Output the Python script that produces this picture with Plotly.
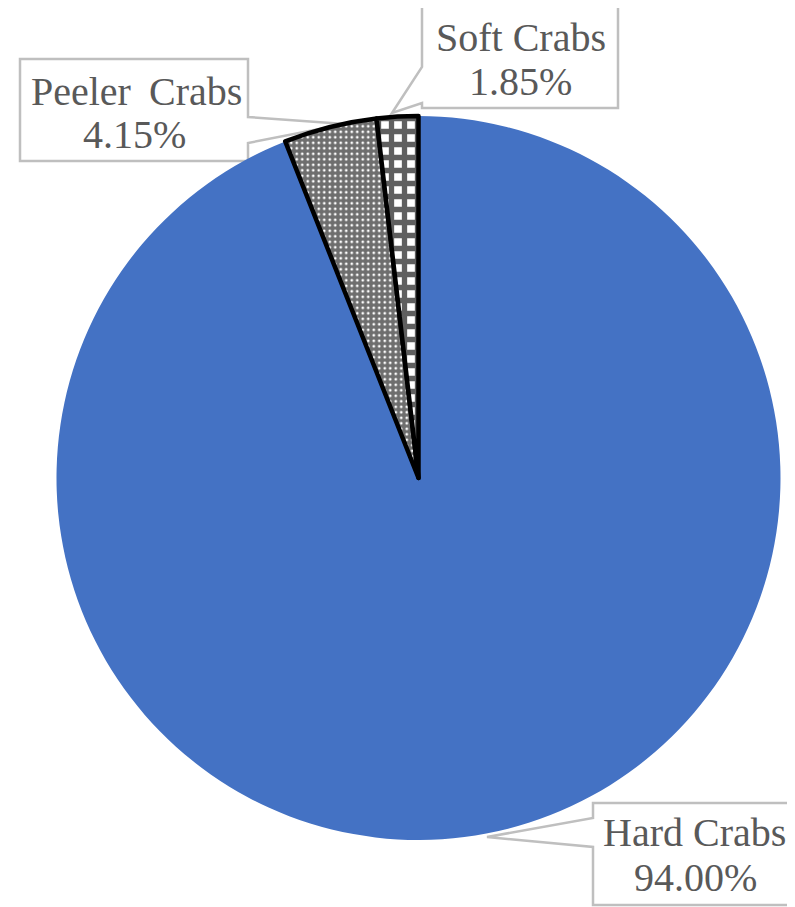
import plotly.graph_objects as go

# The page body has an 8px margin, so the figure is drawn from (8, 8).
OFF = 8
W, H = 795 - OFF, 907 - OFF

categories = ["Hard Crabs", "Peeler Crabs", "Soft Crabs"]
values = [94.00, 4.15, 1.85]
name_text = ["Hard Crabs", "Peeler\u2009 Crabs", "Soft Crabs"]
pct_text = ["94.00%", "4.15%", "1.85%"]

# Pie placement (screen pixels)
cx, cy, r = 418.5, 478, 362

def px(x):
    return (x - OFF) / W

def py(y):
    return 1 - (y - OFF) / H

fig = go.Figure()
fig.add_trace(go.Pie(
    labels=categories,
    values=values,
    sort=False,
    direction="clockwise",
    rotation=0,
    textinfo="none",
    hoverinfo="label+percent",
    showlegend=False,
    domain=dict(x=[px(cx - r), px(cx + r)], y=[py(cy + r), py(cy - r)]),
    marker=dict(
        colors=["#4472C4", "#6e6e6e", "white"],
        line=dict(color="black", width=[0, 4.5, 4.5]),
        pattern=dict(
            shape=["", ".", "+"],
            fgcolor=["#4472C4", "white", "#5f5f5f"],
            bgcolor=["#4472C4", "#6e6e6e", "white"],
            size=[8, 5.5, 13],
            solidity=[0.3, 0.2, 0.65],
            fillmode="replace",
        ),
    ),
))

# callout boxes (left, top, right, bottom), pointer base, tip, text line centres
callouts = [
    dict(box=(20, 59, 248, 161), side="right", base=(117, 143), tip=(345, 124),
         lines=((136, 91.5), (134, 135)), idx=1),
    dict(box=(422, 5, 618, 108), side="left", base=(67, 103), tip=(392, 113),
         lines=((521, 37.5), (520.5, 81.5)), idx=2),
    dict(box=(593, 803, 792, 905), side="left", base=(818, 847), tip=(487, 837),
         lines=((694, 832.5), (695, 877.5)), idx=0),
]

shapes = []
annotations = []
font = dict(family="'Liberation Serif', 'Times New Roman', serif", size=40, color="#595959")
for c in callouts:
    l, t, rr, b = c["box"]
    y1, y2 = c["base"]
    tx, ty = c["tip"]
    if c["side"] == "right":
        pts = [(l, t), (rr, t), (rr, y1), (tx, ty), (rr, y2), (rr, b), (l, b)]
    else:
        pts = [(l, t), (rr, t), (rr, b), (l, b), (l, y2), (tx, ty), (l, y1)]
    path = "M " + " L ".join(f"{px(x):.5f},{py(y):.5f}" for x, y in pts) + " Z"
    shapes.append(dict(type="path", xref="paper", yref="paper", path=path,
                       fillcolor="white", line=dict(color="#bfbfbf", width=2.5),
                       layer="below"))
    i = c["idx"]
    for (lx, ly), txt in zip(c["lines"], (name_text[i], pct_text[i])):
        annotations.append(dict(
            x=px(lx), y=py(ly), xref="paper", yref="paper",
            text=txt, showarrow=False, xanchor="center", yanchor="middle",
            font=font, align="center",
        ))

fig.update_layout(
    width=W, height=H,
    margin=dict(l=0, r=0, t=0, b=0),
    paper_bgcolor="white",
    plot_bgcolor="white",
    shapes=shapes,
    annotations=annotations,
)

fig.write_html("out.html")
